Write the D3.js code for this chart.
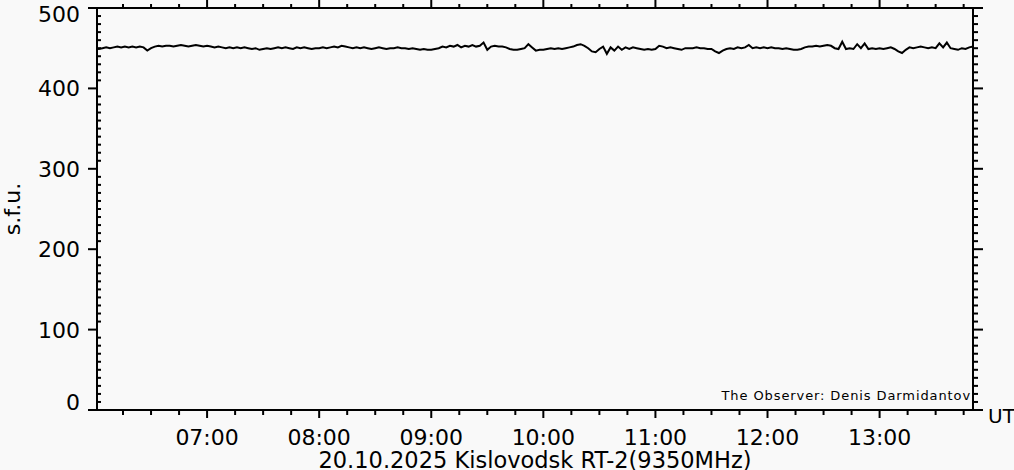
<!DOCTYPE html>
<html>
<head>
<meta charset="utf-8">
<script src="https://cdn.jsdelivr.net/npm/d3@7"></script>
<style>
  html, body { margin: 0; padding: 0; background: #f9f9f9; }
  svg { display: block; font-family: "DejaVu Sans", sans-serif; }
</style>
</head>
<body>
<svg id="chart"></svg>
<script>
// flux, s.f.u., one sample every 2 minutes from 06:00 UT
const startTime = new Date(Date.UTC(2025, 9, 20, 6, 0))
const endTime = new Date(Date.UTC(2025, 9, 20, 13, 50))
const sampleStepMin = 2
const flux = [
  450,449,450,451,450,451,452,451,452,451,
  452,451,452,451,447,450,452,453,452,453,
  453,452,453,454,453,452,453,454,453,452,
  453,452,451,452,451,450,451,450,451,450,
  451,450,449,450,448,449,450,449,450,451,
  450,451,450,449,451,450,451,450,449,450,
  450,451,450,451,452,451,453,452,451,450,
  451,450,451,450,449,450,451,450,449,450,
  450,451,450,450,449,450,449,448,449,448,
  448,449,450,452,451,453,452,454,451,453,
  452,454,452,453,457,448,452,453,452,452,
  451,449,448,448,449,450,455,451,447,448,
  448,449,450,449,450,449,450,451,452,454,
  455,453,450,446,445,449,452,443,451,447,
  452,448,451,449,451,450,449,448,449,448,
  449,453,452,450,451,450,449,448,450,450,
  450,451,450,450,449,449,446,444,447,449,
  450,449,451,450,451,454,450,451,450,451,
  450,451,450,450,449,450,449,448,448,449,
  451,452,452,453,452,453,454,453,450,449,
  458,449,450,449,455,450,456,449,450,449,
  450,449,450,451,449,446,444,448,451,450,
  451,452,451,450,451,450,456,451,457,450,
  449,448,450,449,451,452
]
const yMajor = [0, 100, 200, 300, 400, 500]
const hourLabels = ['07:00', '08:00', '09:00', '10:00', '11:00', '12:00', '13:00']
const title = '20.10.2025 Kislovodsk RT-2(9350MHz)'
const observer = 'The Observer: Denis Darmidantov'

const width = 1014, height = 470
const svg = d3.select('#chart').attr('width', width).attr('height', height)

const x = d3.scaleUtc().domain([startTime, endTime]).range([95, 973])
const y = d3.scaleLinear().domain([0, 500]).range([410, 8])

const data = flux.map((v, i) => ({ t: new Date(+startTime + i * sampleStepMin * 60000), v }))

const hourTicks = hourLabels.map(s => new Date(Date.UTC(2025, 9, 20, +s.slice(0, 2), 0)))
const quarterTicks = d3.utcMinute.every(15).range(startTime, endTime)
  .filter(d => d.getUTCMinutes() !== 0)
const yMinor = d3.range(10, 500, 10).filter(v => v % 100 !== 0)

const axisStyle = g => {
  g.select('.domain').remove()
  g.selectAll('line').attr('stroke', '#000').attr('stroke-width', 2)
}

// bottom axis: ticks pointing down
svg.append('g').attr('transform', `translate(0,${y(0)})`)
  .call(d3.axisBottom(x).tickValues(quarterTicks).tickSize(5).tickFormat('').offset(0))
  .call(axisStyle)
svg.append('g').attr('transform', `translate(0,${y(0)})`)
  .call(d3.axisBottom(x).tickValues(hourTicks).tickSize(8).tickFormat('').offset(0))
  .call(axisStyle)

// top axis: ticks pointing up
svg.append('g').attr('transform', `translate(0,${y(500)})`)
  .call(d3.axisTop(x).tickValues(quarterTicks).tickSize(4).tickFormat('').offset(0))
  .call(axisStyle)
svg.append('g').attr('transform', `translate(0,${y(500)})`)
  .call(d3.axisTop(x).tickValues(hourTicks).tickSize(8).tickFormat('').offset(0))
  .call(axisStyle)

// left axis: majors outward, minors inward
svg.append('g').attr('transform', 'translate(97,0)')
  .call(d3.axisLeft(y).tickValues(yMajor).tickSize(9).tickFormat('').offset(0))
  .call(axisStyle)
svg.append('g').attr('transform', 'translate(97,0)')
  .call(d3.axisRight(y).tickValues(yMinor).tickSize(4).tickFormat('').offset(0))
  .call(axisStyle)

// right axis: everything outward
svg.append('g').attr('transform', 'translate(973,0)')
  .call(d3.axisRight(y).tickValues(yMinor).tickSize(5).tickFormat('').offset(0))
  .call(axisStyle)
svg.append('g').attr('transform', 'translate(973,0)')
  .call(d3.axisRight(y).tickValues(yMajor).tickSize(10).tickFormat('').offset(0))
  .call(axisStyle)

// frame
svg.append('rect')
  .attr('x', 97).attr('y', y(500))
  .attr('width', 973 - 97).attr('height', y(0) - y(500))
  .attr('fill', 'none').attr('stroke', '#000').attr('stroke-width', 2)

// data trace
svg.append('clipPath').attr('id', 'plot')
  .append('rect').attr('x', 98).attr('y', 9).attr('width', 874).attr('height', 400)
svg.append('path')
  .datum(data)
  .attr('clip-path', 'url(#plot)')
  .attr('fill', 'none')
  .attr('stroke', '#000')
  .attr('stroke-width', 2)
  .attr('d', d3.line().x(d => x(d.t)).y(d => y(d.v)))

// y labels (top and bottom ones pushed inside)
svg.append('g').selectAll('text')
  .data(yMajor)
  .join('text')
  .attr('x', 80)
  .attr('y', d => d === 500 ? 22 : d === 0 ? 410 : y(d) + 8)
  .attr('text-anchor', 'end')
  .attr('font-size', 22)
  .text(d => d)

// x labels
svg.append('g').selectAll('text')
  .data(hourTicks)
  .join('text')
  .attr('x', d => x(d))
  .attr('y', 445)
  .attr('text-anchor', 'middle')
  .attr('font-size', 22)
  .text((d, i) => hourLabels[i])

svg.append('text')
  .attr('x', (97 + 973) / 2).attr('y', 468)
  .attr('text-anchor', 'middle')
  .attr('font-size', 22.5)
  .text(title)

svg.append('text')
  .attr('transform', `translate(20,${(y(0) + y(500)) / 2}) rotate(-90)`)
  .attr('text-anchor', 'middle')
  .attr('font-size', 22)
  .text('s.f.u.')

svg.append('text')
  .attr('x', 988).attr('y', 423)
  .attr('font-size', 20)
  .text('UT')

svg.append('text')
  .attr('x', 971).attr('y', 400)
  .attr('text-anchor', 'end')
  .attr('font-size', 13)
  .attr('letter-spacing', 0.9)
  .text(observer)
</script>
</body>
</html>
